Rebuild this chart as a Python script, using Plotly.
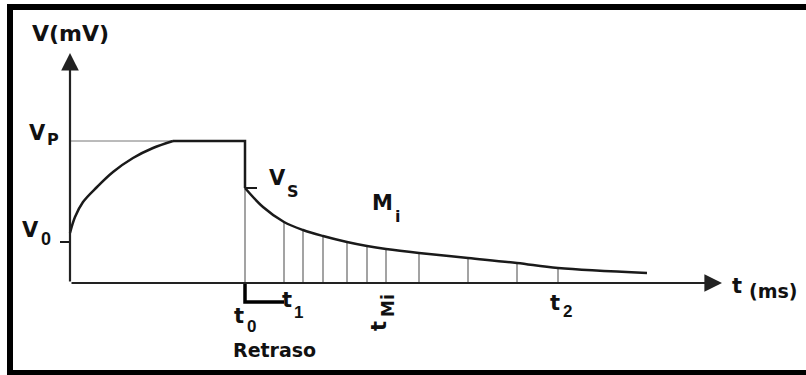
import plotly.graph_objects as go

# ---- data (t in ms units, V in mV units) ----
rise_t = [0.0, 0.25, 0.65, 1.35, 2.15, 3.15, 4.15, 5.15]
rise_v = [2.5, 3.3, 4.05, 4.8, 5.55, 6.25, 6.75, 7.1]
t0 = 8.75
Vp = 7.1
Vs = 4.75
V0 = 2.05
decay_t = [8.75, 9.65, 10.7, 11.65, 12.65, 13.85, 14.85, 15.8, 17.45, 19.9, 22.35, 24.4, 28.85]
decay_v = [4.75, 3.8, 3.05, 2.65, 2.35, 2.05, 1.85, 1.7, 1.5, 1.25, 1.0, 0.75, 0.5]
sample_t = [8.75, 10.7, 11.65, 12.65, 13.85, 14.85, 15.8, 17.45, 19.9, 22.35, 24.4]
sample_v = [4.75, 3.05, 2.65, 2.35, 2.05, 1.85, 1.7, 1.5, 1.25, 1.0, 0.75]
t1 = 10.7
delay_depth = -0.95
t_axis_end = 32.6
v_axis_end = 11.5

INK = "#1a1a1a"
fig = go.Figure()

# Vp guide line
fig.add_trace(go.Scatter(x=[0, t0], y=[Vp, Vp], mode="lines",
                         line=dict(color="#777", width=1), hoverinfo="skip"))
# sample verticals
vx, vy = [], []
for t, v in zip(sample_t, sample_v):
    vx += [t, t, None]
    vy += [0, v, None]
fig.add_trace(go.Scatter(x=vx, y=vy, mode="lines",
                         line=dict(color="#666", width=1.2), hoverinfo="skip"))
# rise
fig.add_trace(go.Scatter(x=rise_t, y=rise_v, mode="lines", line_shape="spline",
                         line=dict(color=INK, width=2.5), hoverinfo="skip"))
# plateau + drop
fig.add_trace(go.Scatter(x=[rise_t[-1], t0, t0], y=[Vp, Vp, Vs], mode="lines",
                         line=dict(color=INK, width=2.5), hoverinfo="skip"))
# decay
fig.add_trace(go.Scatter(x=decay_t, y=decay_v, mode="lines", line_shape="spline",
                         line=dict(color=INK, width=2.5), hoverinfo="skip"))
# ticks V0 and Vs
fig.add_trace(go.Scatter(x=[-0.5, 0, None, t0, t0 + 0.6], y=[V0, V0, None, Vs, Vs],
                         mode="lines", line=dict(color=INK, width=2), hoverinfo="skip"))
# delay bracket
fig.add_trace(go.Scatter(x=[t0, t0, t1], y=[0, delay_depth, delay_depth], mode="lines",
                         line=dict(color="#000", width=3.5), hoverinfo="skip"))

ann = []
# axes with arrows
for (x, y, ax, ay) in [(0, v_axis_end, 0, 0), (t_axis_end, 0, 0, 0)]:
    ann.append(dict(x=x, y=y, ax=ax, ay=ay, xref="x", yref="y", axref="x", ayref="y",
                    text="", showarrow=True, arrowhead=2, arrowsize=1.6, arrowwidth=2.2,
                    arrowcolor="#222", standoff=0, startstandoff=0))

DJ = "DejaVu Sans"
AR = "Liberation Sans, Arial"

def lab(x, y, s, size, family=DJ, bold=True, angle=0):
    txt = f"<b>{s}</b>" if bold else s
    ann.append(dict(x=x, y=y, xref="x", yref="y", text=txt, showarrow=False,
                    textangle=angle, font=dict(family=family, size=size, color="#111"),
                    xanchor="center", yanchor="middle"))

lab(0, 12.5, "V(mV)", 22)
lab(-1.65, 7.5, "V", 21)
lab(-0.85, 7.2, "P", 16)
lab(-2.0, 2.65, "V", 21)
lab(-1.2, 2.2, "0", 18, AR)
lab(10.35, 5.25, "V", 21)
lab(11.15, 4.6, "S", 16)
lab(15.6, 4.0, "M", 21)
lab(16.35, 3.35, "i", 16)
lab(8.45, -1.65, "t", 21)
lab(9.05, -2.15, "0", 17, AR)
lab(10.85, -0.85, "t", 21)
lab(11.4, -1.45, "1", 17, AR)
lab(15.45, -2.15, "t", 21, angle=-90)
lab(15.9, -1.15, "Mi", 17, angle=-90)
lab(24.25, -1.0, "t", 21)
lab(24.85, -1.4, "2", 17, AR)
lab(33.35, -0.15, "t", 21)
lab(35.15, -0.4, "(ms)", 19)
lab(10.2, -3.35, "Retraso", 19)

# frame (top, left, bottom visible)
shapes = [
    dict(type="line", xref="paper", yref="paper", x0=10/806, x1=1.02, y0=1-7/375, y1=1-7/375,
         line=dict(color="#000", width=6)),
    dict(type="line", xref="paper", yref="paper", x0=10/806, x1=10/806, y0=-0.02, y1=1-4/375,
         line=dict(color="#000", width=6)),
    dict(type="line", xref="paper", yref="paper", x0=7/806, x1=1.02, y0=1-373/375, y1=1-373/375,
         line=dict(color="#000", width=6)),
]

fig.update_layout(
    width=806, height=375, margin=dict(l=0, r=0, t=0, b=0),
    paper_bgcolor="white", plot_bgcolor="white", showlegend=False,
    xaxis=dict(range=[-70/20, (806-70)/20], visible=False, fixedrange=True),
    yaxis=dict(range=[-92/20, 283/20], visible=False, fixedrange=True),
    annotations=ann, shapes=shapes,
)
fig.write_html("out.html", config={"displayModeBar": False},
               post_script="document.body.style.margin='0px';document.body.style.padding='0px';document.body.style.overflow='hidden';")
